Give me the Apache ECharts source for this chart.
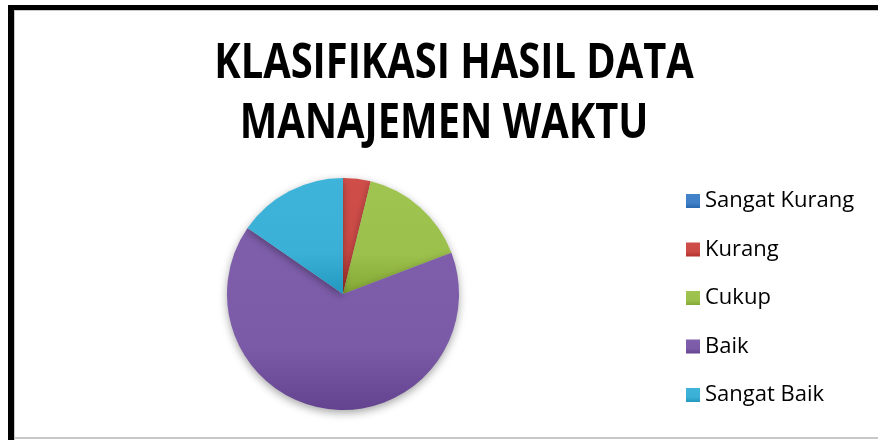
<!DOCTYPE html>
<html>
<head>
<meta charset="utf-8">
<script src="https://cdn.jsdelivr.net/npm/echarts@6/dist/echarts.min.js"></script>
<style>
  html, body { margin: 0; padding: 0; background: #fff; }
  #chart { width: 878px; height: 440px; }
</style>
</head>
<body>
<div id="chart"></div>
<script>
// data
const categories = ['Sangat Kurang', 'Kurang', 'Cukup', 'Baik', 'Sangat Baik'];
const values = [0, 1, 4, 17, 4];
const colors = ['#3F7FC6', '#CC4A46', '#9CC04C', '#7B5BA8', '#3BB0D6'];
const titleLines = ['KLASIFIKASI HASIL DATA', 'MANAJEMEN WAKTU'];

const chart = echarts.init(document.getElementById('chart'));

// 斜面效果：下方略暗
function shade(hex, amt) {
  const n = parseInt(hex.slice(1), 16);
  let r = (n >> 16) & 255, g = (n >> 8) & 255, b = n & 255;
  const f = v => Math.max(0, Math.min(255, Math.round(v + amt)));
  return 'rgb(' + f(r) + ',' + f(g) + ',' + f(b) + ')';
}
function bevel(c) {
  return new echarts.graphic.LinearGradient(0, 0, 0, 1, [
    { offset: 0, color: shade(c, 4) },
    { offset: 0.65, color: c },
    { offset: 1, color: shade(c, -24) }
  ]);
}

// 标题用窄化文字（没有 Calibri）
const titlePos = [[454, 64], [444, 124]];
const titleGraphics = titleLines.map((t, i) => ({
  type: 'text',
  x: titlePos[i][0],
  y: titlePos[i][1],
  scaleX: 0.83,
  silent: true,
  style: {
    text: t,
    fill: '#000',
    font: 'bold 48px "Open Sans", sans-serif',
    textAlign: 'center',
    textVerticalAlign: 'middle'
  }
}));

chart.setOption({
  animation: false,
  backgroundColor: '#fff',
  legend: {
    orient: 'vertical',
    left: 686,
    top: 190,
    padding: 0,
    itemWidth: 14,
    itemHeight: 14,
    itemGap: 26.5,
    icon: 'rect',
    data: categories,
    textStyle: {
      fontFamily: '"Open Sans", sans-serif',
      fontSize: 22,
      lineHeight: 22,
      color: '#000'
    }
  },
  graphic: [
    { type: 'rect', shape: { x: 8, y: 5, width: 870, height: 5 }, style: { fill: '#000' }, silent: true },
    { type: 'rect', shape: { x: 8, y: 5, width: 6, height: 435 }, style: { fill: '#000' }, silent: true },
    { type: 'rect', shape: { x: 14, y: 10, width: 864, height: 1 }, style: { fill: '#c8c8c8' }, silent: true },
    { type: 'rect', shape: { x: 14, y: 10, width: 1, height: 430 }, style: { fill: '#c8c8c8' }, silent: true },
    { type: 'rect', shape: { x: 14, y: 437, width: 864, height: 2 }, style: { fill: '#c8c8c8' }, silent: true }
  ].concat(titleGraphics),
  series: [{
    type: 'pie',
    center: [343, 294],
    radius: 116,
    startAngle: 90,
    clockwise: true,
    label: { show: false },
    labelLine: { show: false },
    emphasis: { disabled: true },
    itemStyle: {
      borderWidth: 0,
      shadowBlur: 8,
      shadowColor: 'rgba(0,0,0,0.35)',
      shadowOffsetY: 3
    },
    data: categories.map((name, i) => ({
      name: name,
      value: values[i],
      itemStyle: { color: bevel(colors[i]) }
    }))
  }]
});
</script>
</body>
</html>
